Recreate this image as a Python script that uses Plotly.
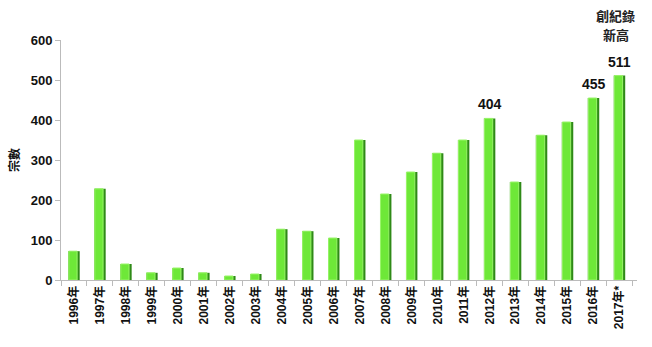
import plotly.graph_objects as go

years = ["1996年", "1997年", "1998年", "1999年", "2000年", "2001年", "2002年", "2003年",
         "2004年", "2005年", "2006年", "2007年", "2008年", "2009年", "2010年", "2011年",
         "2012年", "2013年", "2014年", "2015年", "2016年", "2017年*"]
cases = [72, 228, 40, 18, 30, 18, 10, 15, 127, 122, 105, 350, 215, 270, 317, 350,
         404, 245, 362, 395, 455, 511]
labelled = {"2012年": "404", "2016年": "455", "2017年*": "511"}
record_note = ["創紀錄", "新高"]

FONT = "Liberation Sans, Noto Sans CJK TC, sans-serif"

fig = go.Figure()
# dark base of each bar (shadow side)
fig.add_trace(go.Bar(x=years, y=cases, width=0.44, offset=-0.22,
                     marker=dict(color="#2f8a17", line=dict(width=0)),
                     hoverinfo="skip", showlegend=False))
# bright face of each bar
fig.add_trace(go.Bar(x=years, y=cases, width=0.32, offset=-0.20,
                     marker=dict(color="#6ee838", line=dict(color="#9af56a", width=1)),
                     showlegend=False))

for yr, txt in labelled.items():
    v = cases[years.index(yr)]
    fig.add_annotation(x=yr, y=v, text=f"<b>{txt}</b>", showarrow=False,
                       yanchor="bottom", yshift=4,
                       font=dict(family=FONT, size=14, color="#111"))

# two-line note above the last bar, one annotation per line
for i, line in enumerate(record_note):
    fig.add_annotation(x="2017年*", y=1, yref="paper", text=f"<b>{line}</b>",
                       showarrow=False, yanchor="middle", yshift=25 - 19 * i, xshift=-4,
                       font=dict(family="Noto Sans CJK TC", size=13, color="#222"))

fig.update_layout(
    width=652, height=347,
    margin=dict(l=61, r=15, t=40, b=67),
    paper_bgcolor="white", plot_bgcolor="white",
    barmode="overlay", bargap=0.5,
    font=dict(family=FONT, color="#111"),
)
fig.update_xaxes(
    type="category", tickangle=-90, tickson="boundaries",
    ticks="outside", ticklen=5, tickcolor="#bbb",
    showline=True, linecolor="#bbb", linewidth=1,
    tickfont=dict(family=FONT, size=12, color="#111"),
    tickprefix="<b>", ticksuffix="</b>",
)
fig.update_yaxes(
    range=[0, 600], dtick=100, showgrid=False, zeroline=False,
    ticks="outside", ticklen=5, tickcolor="#bbb",
    showline=True, linecolor="#bbb", linewidth=1,
    tickfont=dict(family=FONT, size=13, color="#111"),
    tickprefix="<b>", ticksuffix="</b>",
    title=dict(text="<b>宗數</b>", font=dict(family="Noto Sans CJK TC", size=12), standoff=8),
)

fig.write_html("out.html")
